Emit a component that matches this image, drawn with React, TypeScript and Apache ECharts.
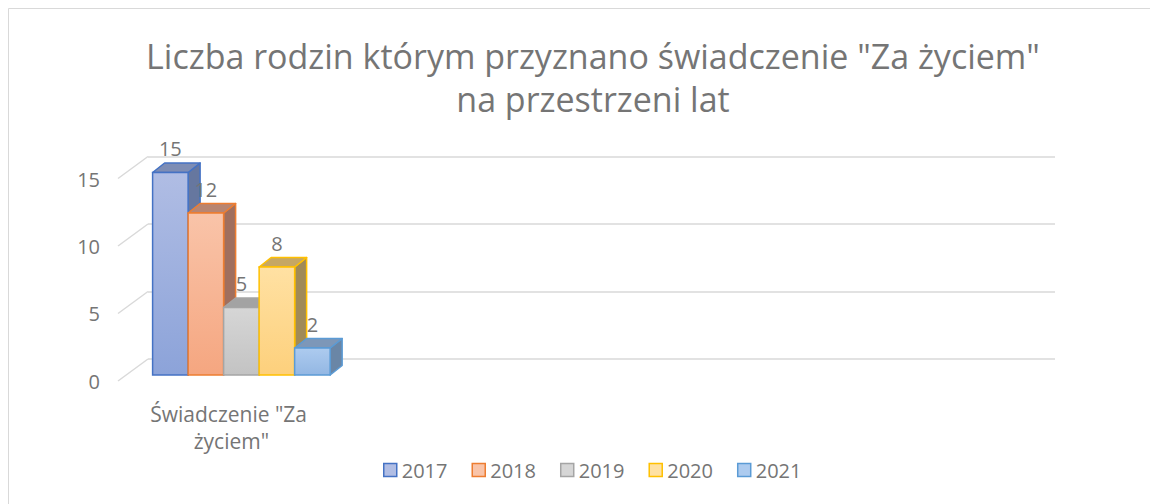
import React, { useEffect, useRef } from "react";
import * as echarts from "echarts";

const titleText = 'Liczba rodzin którym przyznano świadczenie "Za życiem"\nna przestrzeni lat';
const categories = ['Świadczenie "Za życiem"', "", "", ""];
const years = ["2017", "2018", "2019", "2020", "2021"];
const values = [15, 12, 5, 8, 2];
const yMin = 0;
const yMax = 15;
const yInterval = 5;
const yTicks = [0, 5, 10, 15];

const borderColors = ["#4472c4", "#ed7d31", "#a5a5a5", "#ffc000", "#5b9bd5"];
const frontTop = ["#b0bde4", "#f9c4a9", "#d6d6d6", "#ffe1a3", "#adcbef"];
const frontBottom = ["#8ca3d9", "#f5a680", "#c3c3c3", "#fdd07c", "#93b7e3"];
const topFace = ["#7e8db4", "#b88571", "#a3a3a3", "#c6a764", "#7d97b8"];
const sideFace = ["#66779f", "#a06f5e", "#8b8b8b", "#a08a58", "#6a86a6"];

const FONT = "'Open Sans', 'Noto Sans', sans-serif";
const TXT = "#757575";

const FX = -20;
const FY = 16;
const DX = 12;
const DY = -9.5;
const BAR_FRAC = 0.1566;

export default function App() {
  const ref = useRef<HTMLDivElement>(null);
  useEffect(() => {
    if (!ref.current) return;
    const chart = echarts.init(ref.current, null, { renderer: "svg" });
    const n = years.length;

    const barSeries = years.map((yr, i) => ({
      type: "custom",
      name: yr,
      xAxisIndex: 0,
      yAxisIndex: 0,
      z: 10 + i,
      clip: false,
      encode: { x: 0, y: 1 },
      data: [[0, values[i], i]],
      renderItem: (params: any, api: any) => {
        const c = api.value(0);
        const v = api.value(1);
        const idx = api.value(2);
        const base = api.coord([c, 0]);
        const top = api.coord([c, v]);
        const catW = api.size([1, 0])[0];
        const bw = catW * BAR_FRAC;
        const x0 = base[0] - (n * bw) / 2 + idx * bw + FX;
        const yT = top[1] + FY;
        const yB = base[1] + FY;
        const stroke = borderColors[idx];
        return {
          type: "group",
          children: [
            {
              type: "polygon",
              shape: { points: [[x0 + bw, yT], [x0 + bw + DX, yT + DY], [x0 + bw + DX, yB + DY], [x0 + bw, yB]] },
              style: { fill: sideFace[idx], stroke, lineWidth: 1.5, lineJoin: "round" },
            },
            {
              type: "polygon",
              shape: { points: [[x0, yT], [x0 + bw, yT], [x0 + bw + DX, yT + DY], [x0 + DX, yT + DY]] },
              style: { fill: topFace[idx], stroke, lineWidth: 1.5, lineJoin: "round" },
            },
            {
              type: "rect",
              shape: { x: x0, y: yT, width: bw, height: yB - yT },
              style: {
                fill: new echarts.graphic.LinearGradient(0, 0, 0, 1, [
                  { offset: 0, color: frontTop[idx] },
                  { offset: 1, color: frontBottom[idx] },
                ]),
                stroke,
                lineWidth: 1.5,
              },
            },
            {
              type: "text",
              z2: 100,
              style: {
                text: String(v),
                x: x0 + bw / 2,
                y: yT - 24,
                align: "center",
                verticalAlign: "middle",
                fontSize: 20,
                fontFamily: FONT,
                fill: TXT,
              },
            },
          ],
        };
      },
    }));

    const wallSeries = {
      type: "custom",
      name: "walls",
      xAxisIndex: 0,
      yAxisIndex: 0,
      z: 1,
      silent: true,
      clip: false,
      encode: { x: 0, y: 1 },
      data: yTicks.map((t) => [0, t]),
      renderItem: (params: any, api: any) => {
        const y = api.coord([0, api.value(1)])[1];
        const x = params.coordSys.x;
        return {
          type: "line",
          shape: { x1: x, y1: y, x2: x - 30, y2: y + 22 },
          style: { stroke: "#d9d9d9", lineWidth: 1.5 },
        };
      },
    };

    chart.setOption({
      animation: false,
      backgroundColor: "#ffffff",
      title: {
        text: titleText,
        left: 588,
        textAlign: "center",
        top: 29,
        textStyle: { fontSize: 34, lineHeight: 43, color: TXT, fontWeight: "normal", fontFamily: FONT },
      },
      graphic: [
        {
          type: "rect",
          shape: { x: 8.5, y: 8.5, width: 1300, height: 700 },
          style: { fill: "none", stroke: "#d9d9d9", lineWidth: 1 },
          silent: true,
        },
      ],
      legend: {
        bottom: 19,
        left: 378,
        orient: "horizontal",
        itemWidth: 13,
        itemHeight: 13,
        itemGap: 24,
        textStyle: { fontSize: 20, color: TXT, fontFamily: FONT },
        data: years.map((yr, i) => ({
          name: yr,
          icon: "rect",
          itemStyle: { color: frontTop[i], borderColor: borderColors[i], borderWidth: 1.5 },
        })),
      },
      grid: [
        { left: 148, right: 95, top: 156.5, bottom: 145 },
        { left: 118, right: 125, top: 179, bottom: 123 },
      ],
      xAxis: [
        { type: "category", gridIndex: 0, data: categories, show: false },
        {
          type: "category",
          gridIndex: 1,
          data: categories,
          axisLine: { show: false },
          axisTick: { show: false },
          axisLabel: {
            fontSize: 21,
            color: TXT,
            fontFamily: FONT,
            width: 190,
            overflow: "break",
            lineHeight: 27,
            margin: 19,
            interval: 0,
          },
        },
      ],
      yAxis: [
        {
          type: "value",
          gridIndex: 0,
          min: yMin,
          max: yMax,
          interval: yInterval,
          axisLabel: { show: false },
          axisLine: { show: false },
          axisTick: { show: false },
          splitLine: { lineStyle: { color: "#d9d9d9", width: 1.5 } },
        },
        {
          type: "value",
          gridIndex: 1,
          min: yMin,
          max: yMax,
          interval: yInterval,
          axisLabel: { fontSize: 20, color: TXT, fontFamily: FONT, margin: 18 },
          axisLine: { show: false },
          axisTick: { show: false },
          splitLine: { show: false },
        },
      ],
      series: [wallSeries, ...barSeries],
    });
    return () => chart.dispose();
  }, []);
  return <div ref={ref} style={{ position: "fixed", left: 0, top: 0, width: 1150, height: 504 }} />;
}
